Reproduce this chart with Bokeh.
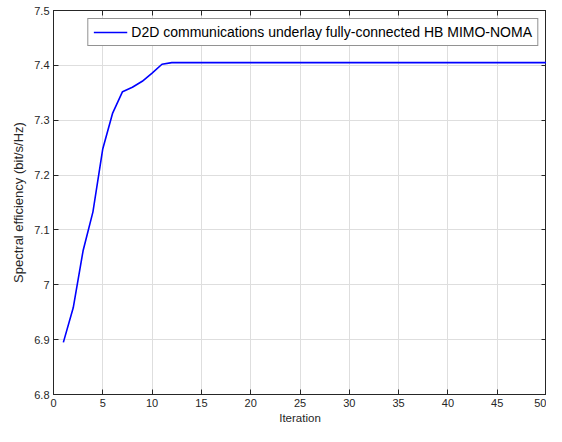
from bokeh.plotting import figure
from bokeh.models import LinearAxis, CustomJSTickFormatter, Range1d, FixedTicker
from bokeh.embed import file_html
from bokeh.resources import INLINE

iterations = list(range(1, 51))
se_head = [6.895, 6.958, 7.062, 7.133, 7.248, 7.313, 7.352, 7.360, 7.371, 7.386, 7.402, 7.405]
se = se_head + [7.405] * (50 - len(se_head))

x_ticks = [0, 5, 10, 15, 20, 25, 30, 35, 40, 45, 50]
y_ticks = [6.8, 6.9, 7.0, 7.1, 7.2, 7.3, 7.4, 7.5]

FONT = "Liberation Sans"
TXT = "#262626"

p = figure(width=546, height=426, output_backend="svg", toolbar_location=None,
           x_range=Range1d(0, 50), y_range=Range1d(6.8, 7.5),
           min_border_left=53, min_border_right=0, min_border_top=10, min_border_bottom=30,
           background_fill_color="white", border_fill_color="white")

p.line(iterations, se, line_color="#0000ff", line_width=1.6,
       legend_label="D2D communications underlay fully-connected HB MIMO-NOMA")

fmt = CustomJSTickFormatter(code="return String(Number(tick.toFixed(1)));")
blank = CustomJSTickFormatter(code="return '';")
p.xaxis.ticker = FixedTicker(ticks=x_ticks)
p.yaxis.ticker = FixedTicker(ticks=y_ticks)
p.yaxis.formatter = fmt
p.xaxis.formatter = fmt

for ax in [p.xaxis[0], p.yaxis[0]]:
    ax.major_tick_in = 5
    ax.major_tick_out = 0
    ax.minor_tick_in = 0
    ax.minor_tick_out = 0
    ax.axis_line_color = TXT
    ax.major_tick_line_color = TXT
    ax.major_label_text_font = FONT
    ax.major_label_text_font_size = "11px"
    ax.major_label_text_color = TXT
    ax.axis_label_text_font = FONT
    ax.axis_label_text_font_style = "normal"
    ax.axis_label_text_color = TXT

p.xaxis.major_label_standoff = 4
p.xaxis.axis_label_standoff = 2
p.yaxis.major_label_standoff = 4
p.yaxis.axis_label_standoff = 5
p.xaxis.axis_label = "Iteration"
p.xaxis.axis_label_text_font_size = "11.5px"
p.yaxis.axis_label = "Spectral efficiency (bit/s/Hz)"
p.yaxis.axis_label_text_font_size = "13px"

top_ax = LinearAxis(ticker=FixedTicker(ticks=x_ticks), formatter=blank,
                    major_tick_in=5, major_tick_out=0, minor_tick_in=0, minor_tick_out=0,
                    axis_line_color=TXT, major_tick_line_color=TXT, major_label_standoff=0)
right_ax = LinearAxis(ticker=FixedTicker(ticks=y_ticks), formatter=blank,
                      major_tick_in=5, major_tick_out=0, minor_tick_in=0, minor_tick_out=0,
                      axis_line_color=TXT, major_tick_line_color=TXT, major_label_standoff=0)
p.add_layout(top_ax, "above")
p.add_layout(right_ax, "right")

p.xgrid.ticker = FixedTicker(ticks=x_ticks)
p.ygrid.ticker = FixedTicker(ticks=y_ticks)
p.grid.grid_line_color = "#dedede"
p.grid.grid_line_width = 1
p.outline_line_color = TXT

p.legend.location = "top_right"
p.legend.margin = 8
p.legend.padding = 5
p.legend.spacing = 0
p.legend.label_standoff = 4
p.legend.border_line_color = "#262626"
p.legend.border_line_width = 1
p.legend.label_text_font = FONT
p.legend.label_text_font_size = "14px"
p.legend.label_text_color = "#000000"
p.legend.glyph_width = 34
p.legend.glyph_height = 14
p.legend.label_height = 14
p.legend.background_fill_alpha = 1

open("out.html", "w").write(file_html(p, INLINE))
